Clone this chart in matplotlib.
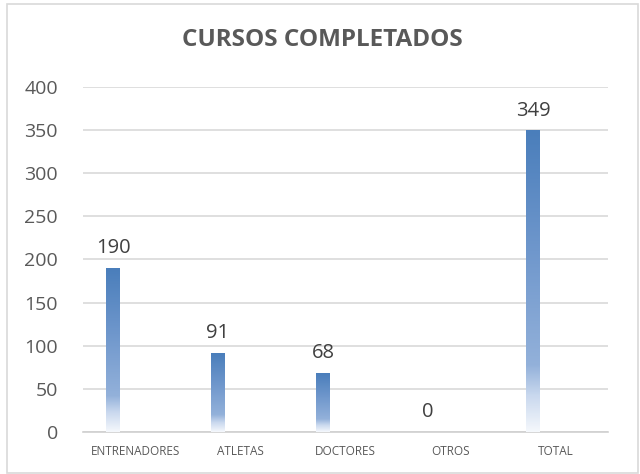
import matplotlib
matplotlib.use("Agg")
from matplotlib import pyplot as plt
from matplotlib.colors import LinearSegmentedColormap
from matplotlib.patches import Rectangle
import numpy as np

categorias = ["ENTRENADORES", "ATLETAS", "DOCTORES", "OTROS", "TOTAL"]
valores = [190, 91, 68, 0, 349]
titulo = "CURSOS COMPLETADOS"

plt.rcParams['font.family'] = ['Open Sans', 'DejaVu Sans']

# degradado tipo Excel: blanco abajo, azul arriba
cmap = LinearSegmentedColormap.from_list(
    "excel_azul",
    [(0.0, "#f5f8fc"), (0.12, "#c9d8ee"), (0.22, "#93b1da"),
     (0.6, "#6f97cc"), (1.0, "#4a7ebb")])
grad = np.linspace(0, 1, 256).reshape(-1, 1)

fig = plt.figure(figsize=(6.4, 4.74), dpi=100)
ax = fig.add_axes([0.1297, 0.0886, 0.8203, 0.7279])

ancho = 0.133
desp = -0.214
x = np.arange(len(categorias))
for xi, v in zip(x, valores):
    xc = xi + desp
    if v > 0:
        ax.imshow(grad, cmap=cmap, origin="lower", aspect="auto",
                  extent=(xc - ancho / 2, xc + ancho / 2, 0, v), zorder=3)
    ax.text(xc, v + 12, str(v), ha="center", va="bottom",
            fontsize=14.5, color="#404040", zorder=4)

ax.set_xlim(-0.5, len(categorias) - 0.5)
ax.set_ylim(0, 400)
ax.set_yticks(range(0, 401, 50))
ax.set_xticks(x)
ax.set_xticklabels(categorias, fontsize=8.5, color="#595959")
ax.tick_params(axis="y", labelsize=14, labelcolor="#595959", length=0, pad=18)
ax.tick_params(axis="x", length=0, pad=9)
ax.grid(axis="y", color="#d9d9d9", linewidth=1.2, zorder=0)
ax.set_axisbelow(True)
for s in ["top", "right", "left"]:
    ax.spines[s].set_visible(False)
ax.spines["bottom"].set_color("#d0d0d0")
ax.spines["bottom"].set_linewidth(1.2)

fig.text(0.503, 0.915, titulo, ha="center", va="center",
         fontsize=17.5, fontweight="bold", color="#595959")

fig.patches.append(Rectangle((0.011, 0.002), 0.986, 0.99, transform=fig.transFigure,
                             fill=False, edgecolor="#d9d9d9", linewidth=1.2))

fig.savefig("out.png", dpi=100)
